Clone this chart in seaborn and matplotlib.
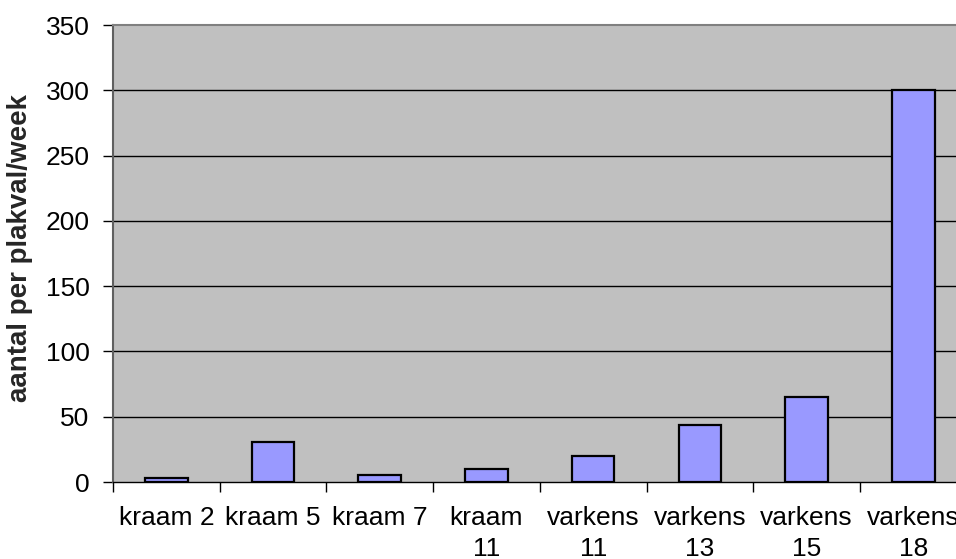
import matplotlib
matplotlib.use("Agg")
import matplotlib.pyplot as plt
import seaborn as sns
import numpy as np
import pandas as pd

categories = ["kraam 2", "kraam 5", "kraam 7", "kraam\n11", "varkens\n11", "varkens\n13", "varkens\n15", "varkens\n18"]
values = [3, 31, 5, 10, 20, 44, 65, 300]
yticks = [0, 50, 100, 150, 200, 250, 300, 350]
ylabel = "aantal per plakval/week"

sns.set_theme(style="white")
plt.rcParams['font.family'] = ['Liberation Sans', 'DejaVu Sans']

df = pd.DataFrame({"cat": categories, "val": values})

fig = plt.figure(figsize=(9.56, 5.59), dpi=100)
ax = fig.add_axes([113/956, 77/559, 853.6/956, 457/559])
ax.set_facecolor("#C0C0C0")

sns.barplot(data=df, x="cat", y="val", color="#9999FF", edgecolor="black",
            linewidth=1.6, width=0.4, saturation=1, ax=ax, zorder=3)

ax.set_ylim(0, 350)
ax.set_xlim(-0.5, len(categories) - 0.5)
ax.set_yticks(yticks)
ax.set_yticklabels([str(v) for v in yticks], fontsize=19, color="black")
for y in yticks[1:-1]:
    ax.axhline(y, color="black", linewidth=1.0, zorder=1)

ax.set_xticks(range(len(categories)))
ax.set_xticklabels(categories, fontsize=19, color="black", linespacing=1.4)
ax.set_xticks(np.arange(-0.5, len(categories), 1.0), minor=True)
ax.tick_params(axis="x", which="major", length=0, pad=17)
ax.tick_params(axis="x", which="minor", length=7, width=1, color="black", direction="out", bottom=True)
ax.tick_params(axis="y", which="major", length=7, width=1, color="black", direction="out", left=True, pad=10)

ax.set_xlabel("")
ax.set_ylabel(ylabel, fontsize=20, fontweight="bold")
ax.yaxis.set_label_coords(-0.094, 0.512)

for s in ["top", "left", "right"]:
    ax.spines[s].set_color("#808080")
    ax.spines[s].set_linewidth(1.5)
ax.spines["bottom"].set_color("black")
ax.spines["bottom"].set_linewidth(1.0)
ax.spines["left"].set_color("#606060")

fig.savefig("out.png", dpi=100)
